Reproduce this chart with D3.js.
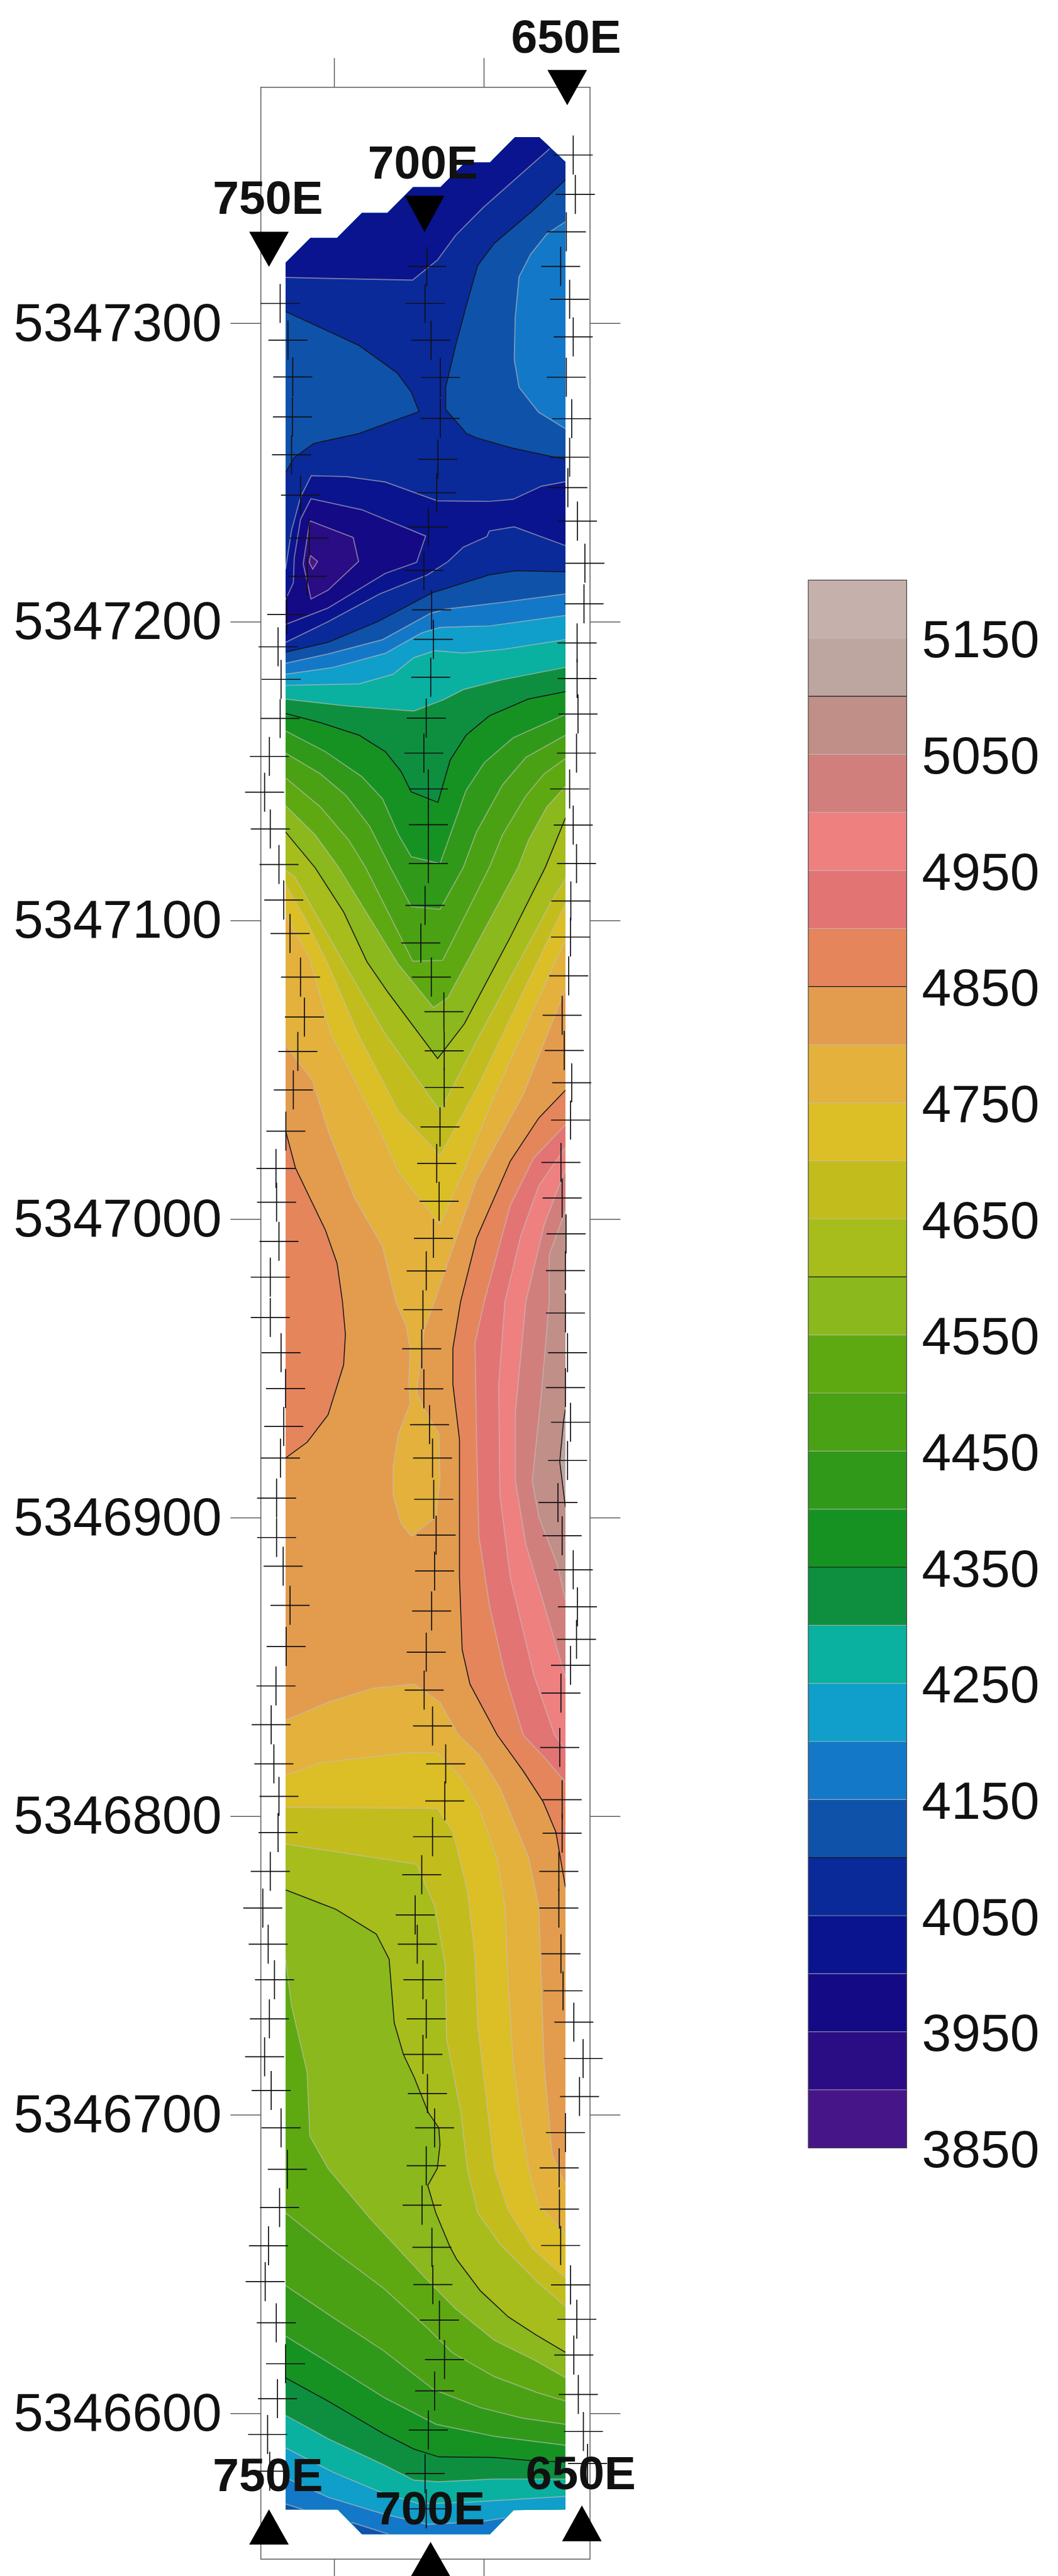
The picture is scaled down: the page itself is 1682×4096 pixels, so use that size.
<!DOCTYPE html>
<html>
<head>
<meta charset="utf-8">
<script src="https://cdn.jsdelivr.net/npm/d3@7"></script>
<style>
  html, body { margin: 0; padding: 0; background: #fff; overflow: hidden; }
  svg { display: block; }
  text { font-family: "Liberation Sans", Arial, sans-serif; fill: #111; }
</style>
</head>
<body>
<svg width="1682" height="4096"></svg>
<script>
// all vertices are [easting, northing - 5346000], traced off the section
var northBase = 5346000;
var northTicks = [5347300, 5347200, 5347100, 5347000, 5346900, 5346800, 5346700, 5346600];
var eastTicks = [725, 675];
var legendTicks = [5150, 5050, 4950, 4850, 4750, 4650, 4550, 4450, 4350, 4250, 4150, 4050, 3950, 3850];
var heavyLevels = [4100, 4350, 4600, 4850, 5100];

// one colour per 50 unit band, from 3850-3900 upwards
var bandColors = ["#461688", "#2a0c84", "#140a86", "#0a148e", "#0a2a9a", "#0f52aa", "#1478c8", "#109eca", "#0ab0a0",
  "#0e8f3f", "#169222", "#30991a", "#4aa114", "#5ea912", "#8ab81d", "#a6bd1c", "#c2bd1c", "#dcbe26", "#e3b13c",
  "#e39c4e", "#e5855c", "#e37474", "#ee8080", "#d17f7d", "#c08f88", "#bda69f", "#c6b0ac"];

var outline = [[741.2,1320.2],[732.9,1328.5],[724,1328.5],[715.7,1336.9],[707.2,1336.9],[698.6,1345.5],[689.5,1345.5],
  [681.2,1353.8],[672.9,1353.8],[664.5,1362.3],[656.5,1362.3],[647.7,1354],[647.7,567.8],[665,567.6],[672.9,559.5],
  [715.7,559.5],[723.8,567.8],[741.2,567.8]];

// low end, north part
var iso3900 = [[732.9,1222.2],[730.5,1220.2],[732.1,1217.6],[733.3,1219.9],[732.9,1222.2]];
var iso3950 = [[733.1,1233.8],[718.6,1228.2],[716.8,1220.2],[727,1210.6],[732.7,1207.6],[735.3,1219.4],[733.1,1233.8]];
var iso4000 = [[741.2,1207.4],[738.6,1213],[738.3,1221.3],[736.2,1234.3],[732.7,1241.2],[715.7,1237.5],[694.4,1228.7],
  [697.4,1219.9],[707.9,1216.2],[727,1204.6],[741.2,1199.1]];
var iso4050top = [[741.2,1315.3],[698.8,1314.4],[690.5,1321.1],[684.4,1329.4],[675.2,1338.7],[653,1358.4]];
var iso4050mid = [[741.2,1217.6],[739.2,1230.6],[736.2,1241.7],[732.6,1248.9],[720.9,1248.6],[707.9,1246.8],[690.5,1240.5],
  [673.1,1240.3],[665.2,1241],[655.7,1245.4],[647.7,1246.9]];
var iso4050low = [[647.7,1225.5],[664.8,1231.8],[673.1,1230.4],[674,1228.5],[681.8,1225],[687,1220.1],[693.8,1215.7],
  [709.8,1209.3],[727,1200],[741.2,1193.1]];
var iso4100west = [[741.2,1303.9],[716.8,1292.6],[703.9,1283.3],[699.2,1276.9],[696.6,1270.4],[716.8,1263],[731.8,1259.7],
  [738.3,1255],[741.2,1250]];
var iso4100east = [[647.7,1348],[658.5,1337.8],[671.5,1326.7],[677,1319.3],[680.7,1306.3],[684.4,1292.4],[687.7,1278.5],
  [687.7,1271.1],[680.7,1263],[677.4,1261.6],[666.1,1258.3],[651.3,1255.1],[647.7,1254.6]];
var iso4150east = [[647.7,1334],[653.9,1329.9],[659.4,1323],[663.2,1315.5],[664.5,1301.7],[664.8,1287.8],[663.2,1278.5],
  [656.7,1270.2],[647.7,1264.6]];

// north limb of the rising field
var iso4100a = [[741.2,1189.8],[727,1193.1],[710.5,1200],[692.2,1209.7],[673.1,1215.7],[664.4,1217.1],[647.7,1216.7]];
var iso4150a = [[741.2,1186.1],[727,1189.2],[708.8,1194],[692.8,1202.8],[687.9,1204.2],[668.7,1206.5],[647.7,1209.3]];
var iso4200a = [[741.2,1182.4],[725.3,1184.7],[707.9,1189.4],[695.7,1196.3],[689.6,1198.1],[673.1,1198.6],[647.7,1202.1]];
var iso4250a = [[741.2,1178.7],[716.6,1179.2],[705.3,1182.4],[698.3,1188],[691.3,1190.3],[681.8,1189.5],[668.8,1190.7],[647.7,1194]];
var iso4300a = [[741.2,1174.1],[720.9,1171.8],[698.3,1170.1],[688.4,1173.9],[681.8,1177.3],[668.8,1180.6],[647.7,1184.7]];
var iso4350a = [[741.2,1169.3],[729.6,1166.2],[716.6,1162],[707.9,1156.5],[702.7,1150],[699.2,1143],[690.3,1139.5],
  [686.2,1153.7],[680.9,1162],[673.1,1168.5],[660.1,1174.1],[647.7,1176.6]];
var iso4400a = [[741.2,1163.4],[727.9,1156.5],[715.7,1148.1],[708.8,1140.7],[703.5,1128.7],[699.2,1121.3],[689.6,1119],
  [680.9,1143.5],[674.8,1152.8],[665.2,1161.1],[647.7,1169]];
var iso4450a = [[741.2,1156],[729.6,1149.1],[720.9,1141.7],[713.1,1131.5],[706.1,1117.6],[699.2,1104.6],[689.6,1103.7],
  [681.8,1117.8],[677.4,1129.6],[668.7,1145.4],[660.9,1154.6],[647.7,1162]];
var iso4500a = [[741.2,1147.7],[729.6,1138],[720.1,1126.9],[714.4,1117.6],[698.7,1086.3],[688.7,1086.6],[673.1,1117.8],
  [668.7,1128.7],[660.9,1141.7],[654.8,1149.1],[647.7,1154.2]];
var iso4550a = [[741.2,1138.4],[731.4,1128.7],[723.5,1117.8],[703.5,1085.2],[691.8,1070.8],[687,1074.1],[663.5,1117.8],
  [660,1126.9],[653.9,1138],[647.7,1144.9]];
var iso4600a = [[741.2,1129.6],[731.3,1117.6],[721.8,1102.8],[714,1086.1],[707,1075.9],[690.4,1053.7],[681.5,1065.3],
  [666.1,1094.4],[654.4,1117.8],[649.6,1129.6],[647.7,1134.3]];
var iso4650a = [[741.2,1116.7],[738.3,1114.8],[720.9,1084.3],[707.9,1062],[689.6,1036.1],[676.6,1061.1],[652.6,1106],[647.7,1113.9]];
var iso4700a = [[741.2,1112],[734.8,1100.9],[727,1085.2],[717,1062],[703.5,1036.1],[689.6,1021.3],[677.4,1043.5],[662.6,1074.5],[647.7,1105.6]];
var iso4750a = [[741.2,1101.9],[733.1,1087],[726.1,1062],[710.5,1031.5],[703.5,1015.7],[689.6,998.1],[681.8,1015.7],[670.5,1043.5],[647.7,1093.5]];
var iso4800a = [[741.2,1058.3],[732.2,1046.3],[727,1029.6],[718.3,1007.4],[708.8,990.7],[704.4,972.4],[700.9,964.1],[699.6,956.7],
  [700,944.6],[699.6,938.1],[703.5,928],[705.3,916.9],[705.3,907.6],[702.7,898.3],[699.2,893.7],[690.9,900.2],[689.6,913.1],
  [690,928],[694.9,936.3],[697.4,941.9],[694.9,963.1],[691.4,972.4],[686.1,988],[677.4,1013],[661.8,1041.7],[647.7,1076.9]];

// high on the east side
var iso4850west = [[741.2,1029.6],[737.9,1017.1],[727.9,996.3],[724,985.2],[722.2,972.4],[721.2,961.3],[721.8,951.1],[727,934.4],[734,925.2],[741.2,919.9]];
var iso4850east = [[647.7,1043.1],[656.6,1033.8],[666.1,1019.4],[670.5,1009.3],[677.4,993.5],[682.7,972.4],[685.3,956.7],[685.3,944.6],
  [683.1,926.1],[683.1,879.8],[682.2,855.7],[679.6,844.2],[670.5,827.2],[661.8,815.1],[655.2,804.9],[650.9,794.7],[647.7,776.2]];
var iso4900 = [[647.7,1031.5],[658.3,1020.4],[666.1,1004.6],[674.8,972.4],[677.9,958.5],[677.4,926.1],[676.6,893.7],[673.1,870.6],
  [667.9,847.4],[661.8,827.2],[654.8,819.7],[647.7,811.4]];
var iso4950 = [[647.7,1024],[656.6,1011.1],[662.6,994.4],[667.9,972.4],[670,944.6],[669.6,907.6],[666.1,879.8],[658.3,847.4],[651.4,827.2],[647.7,822.3]];
var iso5000 = [[647.7,1016.6],[654.8,998.1],[660.9,972.4],[664.4,935.4],[664.4,912.2],[660.9,890.9],[654.8,870.6],[647.7,846.5]];
var iso5050 = [[647.7,1002.8],[653.1,988],[653.1,972.4],[655.7,941.9],[658.8,912.2],[656.6,900.2],[650.5,884.4],[647.7,872.4]];
var iso5100 = [[647.7,936.3],[648.3,932.6],[649.6,918.7],[647.7,903.4]];

// south limb, falling again
var iso4800b = [[741.2,832.1],[727,838.1],[712.2,842.8],[698.3,844.2],[689.6,838.1],[683.5,827.2],[676.6,820.6],[669.6,809.5],
  [660.1,786.4],[656.6,769.7],[654.8,716],[652.1,686.4],[647.7,676.7]];
var iso4750b = [[741.2,813.7],[729.6,817.9],[699.2,821.4],[690.5,821.1],[682.7,813.2],[676.6,803.1],[670.5,785.5],[667.9,769.7],
  [667,747.5],[665.2,717.9],[662.6,697.5],[660,682],[656.7,669.7],[647.7,660.2]];
var iso4700b = [[741.2,802.9],[690.5,802.6],[685.3,794.7],[680.5,775.3],[677.9,753],[677,729.9],[671.4,682],[666.8,668],[658.5,655],[647.7,645.4]];
var iso4650b = [[741.2,790.6],[697.4,783.9],[691.3,769.7],[687.9,750.3],[687.4,725.3],[682.7,701.2],[680.5,682],[677,667.1],[669.6,656.7],[657.6,644.5],[647.7,635.8]];
var iso4600b = [[741.2,775.3],[724.4,768.8],[710.9,760.5],[706.6,752.1],[704.9,730.8],[701.8,720.1],[698.3,712.7],[693.5,700.7],[690,695.6],
  [689.6,690],[690.5,682],[693.7,676.3],[691,667.1],[686.3,655.8],[684,651.5],[676.1,641],[666.8,632.3],[657.6,626.3],[647.7,620.4]];
var iso4550b = [[741.2,752.1],[739.2,736.4],[734,714.2],[733.1,692.9],[727,682],[713.1,665.4],[694.6,645.4],[684.4,635],[671.5,624.5],[657.6,617.6],[647.7,611.9]];
var iso4500b = [[741.2,667.1],[727,655.8],[708.5,641.9],[693.7,628.4],[685.4,620.2],[671.5,612.3],[657.6,607.1],[647.7,604.1]];
var iso4450b = [[741.2,642.8],[727,633.2],[708.5,621],[691.8,608],[676.1,601.9],[662.2,598.4],[647.7,596.3]];
var iso4400b = [[741.2,625.8],[727,617.1],[708.5,605.4],[690.9,596.3],[671.5,592.3],[647.7,589.3]];
var iso4350b = [[741.2,611.9],[727,604.1],[708.5,593.2],[698.3,588],[690,585.4],[671.5,585.2],[658.5,584.1],[647.7,583.7]];
var iso4300b = [[741.2,599.3],[727,591.5],[708.5,582.8],[698.3,577.6],[690,577.1],[671.5,578],[647.7,578]];
var iso4250b = [[741.2,588.4],[725.2,580.2],[708.5,573.2],[696.5,569.7],[680.7,570.2],[647.7,572.2]];
var iso4200b = [[741.2,578.4],[727,571.9],[708.5,566.3],[693.7,562.8],[676.1,563.7],[667.8,565]];
var iso4150west = [[741.2,569.6],[735.4,567.8]];
var iso4150mid = [[719.2,563.5],[706.7,559.5]];

// survey stations along the three lines
var stations750 = [[743,1306.6],[740.4,1294.3],[738.8,1282],[738.9,1268.6],[739.2,1255.9],[736.2,1242.4],[733.3,1228],[734,1215.2],[740.8,1202.4],
  [743.7,1191.6],[742.7,1180.7],[743,1167.6],[746.6,1154.9],[748.2,1142.9],[746.3,1130.6],[743.4,1118.7],[741.8,1106.8],[739.7,1095.6],[736.2,1081],
  [734.9,1067.6],[737.1,1056.1],[738.6,1043.2],[741.1,1029.4],[744.4,1016.9],[744.2,1005.6],[743.4,992.5],[746.3,980.5],[746.3,967],[742.7,955.2],
  [741.2,943.2],[741.8,930.5],[742.9,919.9],[744.2,906.5],[744.2,893.3],[742,883.7],[739.7,870.6],[741,856.8],[744.4,843.6],[746,830.6],[745.1,817.5],
  [743.4,806.6],[743.7,794.5],[746.3,781.5],[748.8,769.2],[747,757.1],[744.9,745.2],[746.6,732.1],[748.2,719.4],[746,708.1],[742.7,695.6],[740.6,681.7],
  [743.2,668.9],[746.9,656.1],[748,644.1],[744.3,630.3],[741.2,616.6],[743.9,604.9],[747.2,592.9],[746.5,580.6]];
var stations700 = [[694,1319],[694.6,1306.6],[692.6,1294.3],[689.5,1281.8],[689.5,1268.1],[690.3,1254.4],[690.7,1243.2],[693.5,1231.7],[695,1217.2],[692.4,1204],
  [691.8,1194.1],[692.7,1181.4],[694.2,1167.7],[695,1156],[693.5,1144],[693.5,1132],[693.5,1119],[694.6,1105],[696,1092.4],[692.5,1081],[688.3,1069.4],
  [688.2,1056.3],[688.2,1044],[689.6,1030.8],[690.7,1018.6],[689.9,1005.9],[691.8,993.5],[694.2,982.6],[695.3,969.6],[695.7,956.5],[695,943.1],[693.1,931.1],
  [692.1,919.9],[691.7,906.1],[690.9,894.1],[691.4,882.1],[692.4,868.7],[694.2,854.9],[694.9,842.2],[692.1,830.2],[687.7,817.5],[688,805.1],[692.1,793.1],
  [695.7,780.4],[697.9,766.9],[697.2,757.1],[695.3,745.2],[694.2,732.1],[695.3,720.2],[693.8,707.1],[691.4,695.6],[694.2,682.9],[695.6,669.7],[692.3,655.6],
  [692,643.1],[689.8,631.2],[688.1,618],[691.4,607.5],[693.5,594.4],[694.6,579.8],[694.2,568]];
var stations650 = [[645.1,1356.3],[644.4,1343.1],[647.4,1330.6],[649.3,1319],[646.3,1308],[645.1,1295.4],[647.4,1281.9],[645.6,1268],[646.3,1255.1],[646.9,1244.9],
  [643.7,1233.7],[641.2,1219.6],[641.5,1206],[643.8,1192.9],[643.8,1181],[643.5,1169.1],[644,1156],[646.3,1144],[645.1,1131.9],[644,1119],[645.9,1106.5],
  [646,1094.4],[646.6,1081.4],[648.8,1068.2],[648.1,1056.4],[645.6,1045.6],[646,1033.1],[649.2,1018.9],[648.8,1007],[647.5,995],[647.7,982.7],[647.7,968.5],
  [647,955.2],[647.7,943.5],[646,931.9],[647,919.1],[650.2,905],[648.8,893.9],[645.1,882.5],[643.7,870.1],[644,859.2],[646,850.5],[649.2,841.2],[649.6,823],
  [648.8,805.5],[648.8,794.3],[649.9,781.5],[649.9,769.2],[649.2,753.9],[648.5,741.5],[644.9,731],[641.8,718.8],[643,706.1],[647.7,694],[649.8,682.2],[649.7,668.4],
  [649.3,656.2],[646,643],[643.9,631.5],[644.9,619.5],[643.4,606.3],[641.7,593.9],[640.3,583.2]];

var s = 1682 / 1951;  // reference pixels to window pixels
var svg = d3.select("svg");

var x = d3.scaleLinear().domain([725, 675]).range([616 * s, 892 * s]);
var y = d3.scaleLinear().domain([5347300, 5346600]).range([596 * s, 4451 * s]);
var legendY = d3.scaleLinear().domain([5150, 3850]).range([1177 * s, 3961.5 * s]);
var bandColor = d3.scaleThreshold().domain(d3.range(3900, 5200, 50)).range(bandColors);

var west = 741.2, east = 647.7, northEnd = 1400, southEnd = 540;

var pathOf = d3.line()
    .x(function(d) { return x(d[0]); })
    .y(function(d) { return y(northBase + d[1]); });

function above(line) { return line.concat([[east, northEnd], [west, northEnd]]); }
function below(line) { return line.concat([[east, southEnd], [west, southEnd]]); }
function between(a, b) { return a.concat(b.slice().reverse()); }

svg.append("clipPath").attr("id", "outline")
  .append("path").attr("d", pathOf(outline) + "Z");

var map = svg.append("g").attr("clip-path", "url(#outline)");

function paint(rings, value) {
  map.append("path")
      .attr("d", rings.map(function(r) { return pathOf(r) + "Z"; }).join(""))
      .attr("fill", bandColor(value));
}

// base band, then lows on top going down
paint([outline], 4350);
paint([above(iso4350a), below(iso4350b)], 4300);
paint([above(iso4300a), below(iso4300b)], 4250);
paint([above(iso4250a), below(iso4250b)], 4200);
paint([above(iso4200a), below(iso4200b)], 4150);
paint([above(iso4150a), iso4150west.concat([[741.2, 567.8]]), iso4150mid.concat([[715.7, 559.5]])], 4100);
paint([above(iso4100a)], 4050);
paint([iso4100west, iso4100east], 4100);
paint([iso4150east], 4150);
paint([iso4050top.concat([[653, northEnd], [west, northEnd]]), between(iso4050mid, iso4050low.slice().reverse())], 4000);
paint([iso4000], 3950);
paint([iso3950], 3900);
paint([iso3900], 3850);

// and the highs, going up
paint([between(iso4400a, iso4400b)], 4400);
paint([between(iso4450a, iso4450b)], 4450);
paint([between(iso4500a, iso4500b)], 4500);
paint([between(iso4550a, iso4550b)], 4550);
paint([between(iso4600a, iso4600b)], 4600);
paint([between(iso4650a, iso4650b)], 4650);
paint([between(iso4700a, iso4700b)], 4700);
paint([between(iso4750a, iso4750b)], 4750);
paint([between(iso4800a, iso4800b)], 4800);
paint([iso4850west, iso4850east], 4850);
paint([iso4900], 4900);
paint([iso4950], 4950);
paint([iso5000], 5000);
paint([iso5050], 5050);
paint([iso5100], 5100);

var thinLines = [iso3900, iso3950, iso4000, iso4050top, iso4050mid, iso4050low, iso4150east, iso4150a, iso4200a, iso4250a, iso4300a, iso4400a,
  iso4450a, iso4500a, iso4550a, iso4650a, iso4700a, iso4750a, iso4800a, iso4900, iso4950, iso5000, iso5050, iso4800b, iso4750b, iso4700b, iso4650b,
  iso4550b, iso4500b, iso4450b, iso4400b, iso4300b, iso4250b, iso4200b, iso4150west, iso4150mid];
var blackLines = [iso4100west, iso4100east, iso4100a, iso4350a, iso4350b, iso4600a, iso4600b, iso4850west, iso4850east, iso5100];

map.selectAll("path.thin").data(thinLines).enter().append("path")
    .attr("class", "thin")
    .attr("d", pathOf)
    .attr("fill", "none")
    .attr("stroke", "#c4c0bc")
    .attr("stroke-opacity", 0.6)
    .attr("stroke-width", 1.7);

map.selectAll("path.black").data(blackLines).enter().append("path")
    .attr("class", "black")
    .attr("d", pathOf)
    .attr("fill", "none")
    .attr("stroke", "#14161c")
    .attr("stroke-width", 1.5);

// frame and ticks
var frameLeft = 481 * s, frameRight = 1088 * s, frameTop = 161 * s, frameBottom = 4720 * s;

svg.append("rect")
    .attr("x", frameLeft).attr("y", frameTop)
    .attr("width", frameRight - frameLeft).attr("height", frameBottom - frameTop)
    .attr("fill", "none").attr("stroke", "#5c5c5c").attr("stroke-width", 1.5);

var axisLeft = svg.append("g")
    .attr("transform", "translate(" + frameLeft + ",0)")
    .call(d3.axisLeft(y).tickValues(northTicks).tickSize(56 * s).tickPadding(14).tickFormat(d3.format("d")));
var axisRight = svg.append("g")
    .attr("transform", "translate(" + frameRight + ",0)")
    .call(d3.axisRight(y).tickValues(northTicks).tickSize(56 * s).tickFormat(""));
var axisTop = svg.append("g")
    .attr("transform", "translate(0," + frameTop + ")")
    .call(d3.axisTop(x).tickValues(eastTicks).tickSize(54 * s).tickFormat(""));
var axisBottom = svg.append("g")
    .attr("transform", "translate(0," + frameBottom + ")")
    .call(d3.axisBottom(x).tickValues(eastTicks).tickSize(54 * s).tickFormat(""));

[axisLeft, axisRight, axisTop, axisBottom].forEach(function(a) {
  a.select(".domain").remove();
  a.selectAll("line").attr("stroke", "#5c5c5c").attr("stroke-width", 1.5);
});
axisLeft.selectAll("text").attr("font-size", 85).style("font-family", null).attr("fill", "#111");

// section labels and triangles, reference pixels
function section(name, labelX, labelY, tipX, tipY, baseY) {
  svg.append("text")
      .attr("x", labelX * s).attr("y", labelY * s)
      .attr("text-anchor", "middle")
      .attr("font-size", 75)
      .attr("font-weight", "bold")
      .text(name);
  svg.append("path")
      .attr("d", d3.line()([[(tipX - 36.5) * s, baseY * s], [(tipX + 36.5) * s, baseY * s], [tipX * s, tipY * s]]) + "Z")
      .attr("fill", "#000");
}
section("650E", 1044, 97, 1046, 194, 129);
section("700E", 780, 329, 783, 428, 361);
section("750E", 494, 394, 496, 492, 427.5);
section("750E", 494, 4595, 496, 4628, 4693);
section("700E", 793, 4656, 794, 4688, 4752);
section("650E", 1071, 4591, 1073, 4621, 4687);

// stations as plus marks
var arm = 36 * s;
var stations = svg.append("g").attr("stroke", "#101014").attr("stroke-width", 1.7);
[stations750, stations700, stations650].forEach(function(line) {
  var g = stations.append("g");
  g.selectAll("line.h").data(line).enter().append("line")
      .attr("class", "h")
      .attr("x1", function(d) { return x(d[0]) - arm; })
      .attr("x2", function(d) { return x(d[0]) + arm; })
      .attr("y1", function(d) { return y(northBase + d[1]); })
      .attr("y2", function(d) { return y(northBase + d[1]); });
  g.selectAll("line.v").data(line).enter().append("line")
      .attr("class", "v")
      .attr("x1", function(d) { return x(d[0]); })
      .attr("x2", function(d) { return x(d[0]); })
      .attr("y1", function(d) { return y(northBase + d[1]) - arm; })
      .attr("y2", function(d) { return y(northBase + d[1]) + arm; });
});

// colour key
var keyLeft = 1490.5 * s, keyWidth = 181.5 * s;
var bandStarts = d3.range(3850, 5200, 50);
var bandH = legendY(3850) - legendY(3900);

svg.selectAll("rect.band").data(bandStarts).enter().append("rect")
    .attr("class", "band")
    .attr("x", keyLeft)
    .attr("y", function(d) { return legendY(d) - bandH; })
    .attr("width", keyWidth)
    .attr("height", bandH + 0.5)
    .attr("fill", function(d) { return bandColor(d); });

svg.selectAll("line.keyline").data(bandStarts.slice(1)).enter().append("line")
    .attr("class", "keyline")
    .attr("x1", keyLeft).attr("x2", keyLeft + keyWidth)
    .attr("y1", function(d) { return legendY(d); })
    .attr("y2", function(d) { return legendY(d); })
    .attr("stroke", function(d) { return heavyLevels.indexOf(d) >= 0 ? "#14161c" : "#c4c0bc"; })
    .attr("stroke-opacity", function(d) { return heavyLevels.indexOf(d) >= 0 ? 1 : 0.7; })
    .attr("stroke-width", 1.2);

svg.append("rect")
    .attr("x", keyLeft).attr("y", legendY(5200))
    .attr("width", keyWidth).attr("height", legendY(3850) - legendY(5200))
    .attr("fill", "none").attr("stroke", "#444").attr("stroke-width", 1.2);

var keyAxis = svg.append("g")
    .attr("transform", "translate(" + (keyLeft + keyWidth) + ",0)")
    .call(d3.axisRight(legendY).tickValues(legendTicks).tickSize(0).tickPadding(28 * s).tickFormat(d3.format("d")));
keyAxis.select(".domain").remove();
keyAxis.selectAll("text").attr("font-size", 84).style("font-family", null).attr("fill", "#111").attr("dy", "0.36em");
</script>
</body>
</html>
